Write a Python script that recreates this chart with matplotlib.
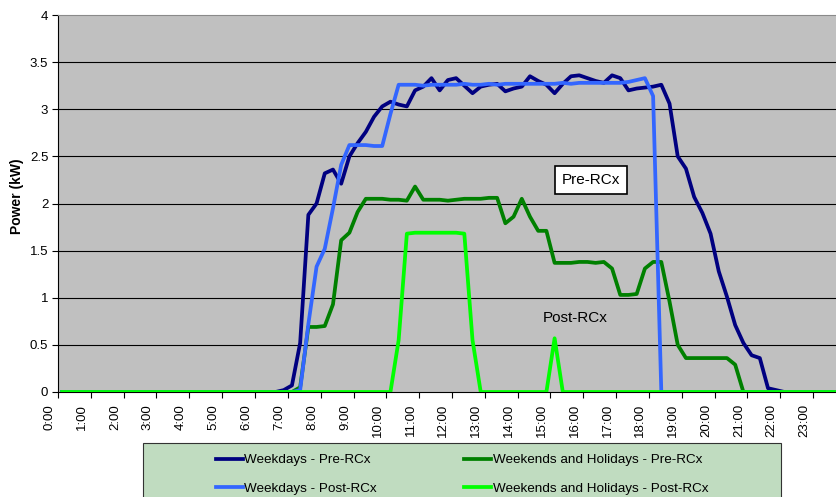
# %%
import matplotlib
matplotlib.use("Agg")
import matplotlib.pyplot as plt
from matplotlib.patches import Rectangle
from matplotlib.transforms import ScaledTranslation, blended_transform_factory

plt.rcParams['font.family'] = ['Liberation Sans', 'DejaVu Sans']

# 15-minute averages, 96 slots from 0:00
hour_labels = ["%d:00" % h for h in range(24)]

weekday_pre = [0]*27 + [
    0.02, 0.07, 0.52, 1.88, 2.00, 2.32, 2.36, 2.21, 2.50, 2.64, 2.76, 2.92, 3.03,
    3.08, 3.05, 3.03, 3.20, 3.24, 3.33, 3.20, 3.31, 3.33, 3.25, 3.17, 3.24, 3.26,
    3.27, 3.19, 3.22, 3.24, 3.35, 3.30, 3.26, 3.17, 3.27, 3.35, 3.36, 3.33, 3.30,
    3.28, 3.36, 3.33, 3.20, 3.22, 3.23, 3.24, 3.26, 3.06, 2.50, 2.37, 2.07, 1.90,
    1.68, 1.28, 1.01, 0.71, 0.52, 0.39, 0.36, 0.04, 0.02] + [0]*8

weekend_pre = [0]*29 + [
    0.05, 0.69, 0.69, 0.70, 0.93, 1.61, 1.69, 1.91, 2.05, 2.05, 2.05, 2.04, 2.04,
    2.03, 2.18, 2.04, 2.04, 2.04, 2.03, 2.04, 2.05, 2.05, 2.05, 2.06, 2.06, 1.79,
    1.86, 2.05, 1.86, 1.71, 1.71, 1.37, 1.37, 1.37, 1.38, 1.38, 1.37, 1.38, 1.31,
    1.03, 1.03, 1.04, 1.31, 1.38, 1.38, 0.96, 0.50, 0.36, 0.36, 0.36, 0.36, 0.36,
    0.36, 0.29] + [0]*13

weekday_post = [0]*29 + [
    0.02, 0.72, 1.33, 1.52, 1.95, 2.41, 2.62, 2.62, 2.62, 2.61, 2.61, 2.95, 3.26,
    3.26, 3.26, 3.25, 3.26, 3.26, 3.26, 3.26, 3.27, 3.26, 3.26, 3.27, 3.26, 3.27,
    3.27, 3.27, 3.27, 3.27, 3.27, 3.27, 3.28, 3.27, 3.28, 3.28, 3.28, 3.28, 3.28,
    3.28, 3.29, 3.31, 3.33, 3.14] + [0]*23

weekend_post = [0]*41 + [
    0.55, 1.68, 1.69, 1.69, 1.69, 1.69, 1.69, 1.69, 1.68, 0.55] + [0]*9 + [
    0.57] + [0]*35

W, H = 837, 497
fig = plt.figure(figsize=(W/100, H/100), dpi=100)
ax = fig.add_axes([58/W, 1 - 392/H, 788/W, 377/H])
ax.set_facecolor("#C0C0C0")

x = list(range(96))
lw = 2.7
l1, = ax.plot(x, weekday_pre, color="#000080", lw=lw, label="Weekdays - Pre-RCx", zorder=3)
l2, = ax.plot(x, weekend_pre, color="#008000", lw=lw, label="Weekends and Holidays - Pre-RCx", zorder=3)
l3, = ax.plot(x, weekday_post, color="#3366FF", lw=lw, label="Weekdays - Post-RCx", zorder=3)
l4, = ax.plot(x, weekend_post, color="#00FF00", lw=lw, label="Weekends and Holidays - Post-RCx", zorder=3)

ax.set_xlim(-0.5, 95.5)
ax.set_ylim(0, 4)
ax.set_yticks([0, 0.5, 1, 1.5, 2, 2.5, 3, 3.5, 4])
ax.set_yticklabels(["0", "0.5", "1", "1.5", "2", "2.5", "3", "3.5", "4"])
for v in [0.5, 1, 1.5, 2, 2.5, 3, 3.5]:
    ax.axhline(v, color="black", lw=0.8, zorder=1)

# tick marks at hour boundaries, labels sit a bit to the left like Excel draws them
ax.set_xticks([4*h - 0.5 for h in range(24)])
ax.set_xticklabels([])
lab_tr = blended_transform_factory(ax.transData, ax.transAxes) + \
    ScaledTranslation(-0.086, -0.12, fig.dpi_scale_trans)
for h, lab in enumerate(hour_labels):
    ax.text(4*h - 0.5, 0, lab, transform=lab_tr, rotation=90, ha="center", va="top",
            fontsize=9.5, clip_on=False)

ax.tick_params(axis="both", labelsize=9.5, length=4, width=0.8, color="black", direction="out")
ax.tick_params(axis="y", pad=3)
ax.spines["right"].set_visible(False)
ax.spines["top"].set_color("#8A8A8A")
ax.spines["top"].set_linewidth(0.8)
for s in ["left", "bottom"]:
    ax.spines[s].set_color("black")
    ax.spines[s].set_linewidth(0.8)

fig.text(17.5/W, 1 - 196/H, "Power (kW)", rotation=90, ha="center", va="center",
         fontsize=10, fontweight="bold")

ax.text(64.4, 2.25, "Pre-RCx", fontsize=11, ha="center", va="center", zorder=5,
        bbox=dict(boxstyle="square,pad=0.45", fc="white", ec="black", lw=1.2))
ax.text(62.5, 0.78, "Post-RCx", fontsize=11, ha="center", va="center", zorder=5)

# legend box, bottom runs off the picture like the original
fig.patches.append(Rectangle((143/W, 1 - 520/H), 638/W, 77/H, transform=fig.transFigure,
                             fc="#C0DCC0", ec="#333333", lw=0.8))
fig.legend([l1, l3, l2, l4], [l.get_label() for l in [l1, l3, l2, l4]],
           loc="upper left", bbox_to_anchor=(216/W, 1 - 454/H), ncol=2, frameon=False,
           fontsize=9.7, handlelength=2.0, handletextpad=0.1, columnspacing=6.5,
           labelspacing=1.2, borderpad=0, borderaxespad=0)

fig.savefig("out.png", dpi=100)
